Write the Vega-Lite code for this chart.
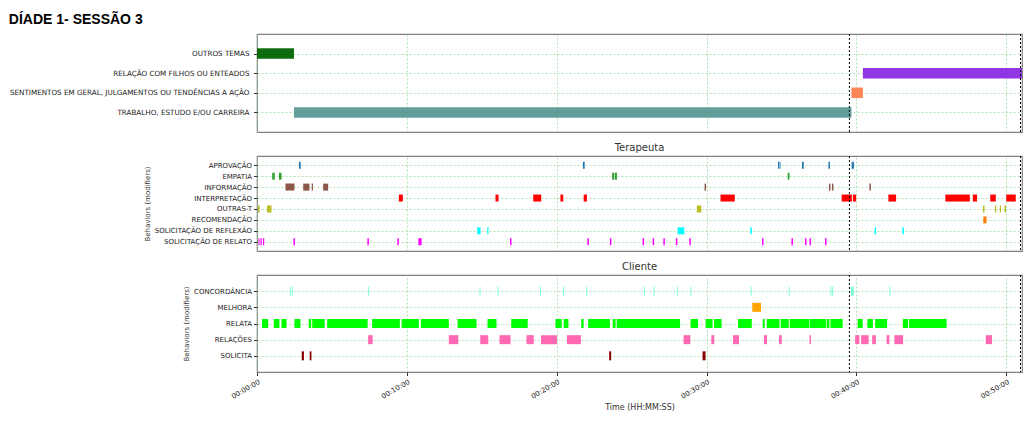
{
  "$schema": "https://vega.github.io/schema/vega-lite/v6.json",
  "padding": {"left": 8, "top": 12, "right": 3, "bottom": 5},
  "title": {"text": "DÍADE 1- SESSÃO 3", "anchor": "start", "font": "Liberation Sans", "fontSize": 14, "fontWeight": "bold", "color": "#000", "offset": 6},
  "datasets": {
    "temas": [
      {"behavior": "OUTROS TEMAS", "start": 0, "end": 148},
      {"behavior": "TRABALHO, ESTUDO E/OU CARREIRA", "start": 148, "end": 2380},
      {"behavior": "SENTIMENTOS EM GERAL, JULGAMENTOS OU TENDÊNCIAS A AÇÃO", "start": 2380, "end": 2426},
      {"behavior": "RELAÇÃO COM FILHOS OU ENTEADOS", "start": 2426, "end": 3063}
    ],
    "terapeuta": [
      {"behavior": "APROVAÇÃO", "start": 168, "end": 175},
      {"behavior": "APROVAÇÃO", "start": 1305, "end": 1312},
      {"behavior": "APROVAÇÃO", "start": 2086, "end": 2090},
      {"behavior": "APROVAÇÃO", "start": 2092, "end": 2096},
      {"behavior": "APROVAÇÃO", "start": 2182, "end": 2189},
      {"behavior": "APROVAÇÃO", "start": 2288, "end": 2294},
      {"behavior": "APROVAÇÃO", "start": 2381, "end": 2390},
      {"behavior": "EMPATIA", "start": 61, "end": 71},
      {"behavior": "EMPATIA", "start": 88, "end": 98},
      {"behavior": "EMPATIA", "start": 1422, "end": 1430},
      {"behavior": "EMPATIA", "start": 1433, "end": 1441},
      {"behavior": "EMPATIA", "start": 2125, "end": 2132},
      {"behavior": "INFORMAÇÃO", "start": 114, "end": 150},
      {"behavior": "INFORMAÇÃO", "start": 185, "end": 210},
      {"behavior": "INFORMAÇÃO", "start": 219, "end": 224},
      {"behavior": "INFORMAÇÃO", "start": 265, "end": 285},
      {"behavior": "INFORMAÇÃO", "start": 1792, "end": 1798},
      {"behavior": "INFORMAÇÃO", "start": 2290, "end": 2296},
      {"behavior": "INFORMAÇÃO", "start": 2302, "end": 2308},
      {"behavior": "INFORMAÇÃO", "start": 2452, "end": 2458},
      {"behavior": "INTERPRETAÇÃO", "start": 568, "end": 584},
      {"behavior": "INTERPRETAÇÃO", "start": 955, "end": 967},
      {"behavior": "INTERPRETAÇÃO", "start": 1106, "end": 1138},
      {"behavior": "INTERPRETAÇÃO", "start": 1215, "end": 1226},
      {"behavior": "INTERPRETAÇÃO", "start": 1308, "end": 1321},
      {"behavior": "INTERPRETAÇÃO", "start": 1856, "end": 1913},
      {"behavior": "INTERPRETAÇÃO", "start": 2341, "end": 2382},
      {"behavior": "INTERPRETAÇÃO", "start": 2386, "end": 2399},
      {"behavior": "INTERPRETAÇÃO", "start": 2528, "end": 2559},
      {"behavior": "INTERPRETAÇÃO", "start": 2756, "end": 2854},
      {"behavior": "INTERPRETAÇÃO", "start": 2866, "end": 2883},
      {"behavior": "INTERPRETAÇÃO", "start": 2936, "end": 2958},
      {"behavior": "INTERPRETAÇÃO", "start": 3000, "end": 3038},
      {"behavior": "OUTRAS-T", "start": 4, "end": 10},
      {"behavior": "OUTRAS-T", "start": 40, "end": 58},
      {"behavior": "OUTRAS-T", "start": 1761, "end": 1779},
      {"behavior": "OUTRAS-T", "start": 2907, "end": 2913},
      {"behavior": "OUTRAS-T", "start": 2955, "end": 2960},
      {"behavior": "OUTRAS-T", "start": 2974, "end": 2979},
      {"behavior": "OUTRAS-T", "start": 2993, "end": 2999},
      {"behavior": "RECOMENDAÇÃO", "start": 2908, "end": 2921},
      {"behavior": "SOLICITAÇÃO DE REFLEXÃO", "start": 882, "end": 895},
      {"behavior": "SOLICITAÇÃO DE REFLEXÃO", "start": 922, "end": 927},
      {"behavior": "SOLICITAÇÃO DE REFLEXÃO", "start": 1684, "end": 1711},
      {"behavior": "SOLICITAÇÃO DE REFLEXÃO", "start": 1975, "end": 1981},
      {"behavior": "SOLICITAÇÃO DE REFLEXÃO", "start": 2473, "end": 2479},
      {"behavior": "SOLICITAÇÃO DE REFLEXÃO", "start": 2584, "end": 2590},
      {"behavior": "SOLICITAÇÃO DE RELATO", "start": 6, "end": 10},
      {"behavior": "SOLICITAÇÃO DE RELATO", "start": 14, "end": 19},
      {"behavior": "SOLICITAÇÃO DE RELATO", "start": 24, "end": 29},
      {"behavior": "SOLICITAÇÃO DE RELATO", "start": 146, "end": 152},
      {"behavior": "SOLICITAÇÃO DE RELATO", "start": 442, "end": 448},
      {"behavior": "SOLICITAÇÃO DE RELATO", "start": 562, "end": 568},
      {"behavior": "SOLICITAÇÃO DE RELATO", "start": 646, "end": 659},
      {"behavior": "SOLICITAÇÃO DE RELATO", "start": 1013, "end": 1019},
      {"behavior": "SOLICITAÇÃO DE RELATO", "start": 1323, "end": 1329},
      {"behavior": "SOLICITAÇÃO DE RELATO", "start": 1413, "end": 1419},
      {"behavior": "SOLICITAÇÃO DE RELATO", "start": 1544, "end": 1550},
      {"behavior": "SOLICITAÇÃO DE RELATO", "start": 1584, "end": 1590},
      {"behavior": "SOLICITAÇÃO DE RELATO", "start": 1627, "end": 1633},
      {"behavior": "SOLICITAÇÃO DE RELATO", "start": 1677, "end": 1683},
      {"behavior": "SOLICITAÇÃO DE RELATO", "start": 1731, "end": 1737},
      {"behavior": "SOLICITAÇÃO DE RELATO", "start": 2022, "end": 2028},
      {"behavior": "SOLICITAÇÃO DE RELATO", "start": 2140, "end": 2146},
      {"behavior": "SOLICITAÇÃO DE RELATO", "start": 2194, "end": 2200},
      {"behavior": "SOLICITAÇÃO DE RELATO", "start": 2212, "end": 2218},
      {"behavior": "SOLICITAÇÃO DE RELATO", "start": 2274, "end": 2280}
    ],
    "cliente": [
      {"behavior": "CONCORDÂNCIA", "start": 131, "end": 135},
      {"behavior": "CONCORDÂNCIA", "start": 139, "end": 143},
      {"behavior": "CONCORDÂNCIA", "start": 445, "end": 449},
      {"behavior": "CONCORDÂNCIA", "start": 891, "end": 895},
      {"behavior": "CONCORDÂNCIA", "start": 963, "end": 967},
      {"behavior": "CONCORDÂNCIA", "start": 1133, "end": 1137},
      {"behavior": "CONCORDÂNCIA", "start": 1225, "end": 1229},
      {"behavior": "CONCORDÂNCIA", "start": 1318, "end": 1322},
      {"behavior": "CONCORDÂNCIA", "start": 1549, "end": 1553},
      {"behavior": "CONCORDÂNCIA", "start": 1588, "end": 1592},
      {"behavior": "CONCORDÂNCIA", "start": 1681, "end": 1685},
      {"behavior": "CONCORDÂNCIA", "start": 1735, "end": 1739},
      {"behavior": "CONCORDÂNCIA", "start": 1976, "end": 1980},
      {"behavior": "CONCORDÂNCIA", "start": 2129, "end": 2133},
      {"behavior": "CONCORDÂNCIA", "start": 2296, "end": 2300},
      {"behavior": "CONCORDÂNCIA", "start": 2303, "end": 2307},
      {"behavior": "CONCORDÂNCIA", "start": 2378, "end": 2390},
      {"behavior": "CONCORDÂNCIA", "start": 2532, "end": 2536},
      {"behavior": "MELHORA", "start": 1983, "end": 2018},
      {"behavior": "RELATA", "start": 20, "end": 45},
      {"behavior": "RELATA", "start": 67, "end": 90},
      {"behavior": "RELATA", "start": 98, "end": 118},
      {"behavior": "RELATA", "start": 150, "end": 174},
      {"behavior": "RELATA", "start": 207, "end": 217},
      {"behavior": "RELATA", "start": 221, "end": 271},
      {"behavior": "RELATA", "start": 281, "end": 443},
      {"behavior": "RELATA", "start": 461, "end": 572},
      {"behavior": "RELATA", "start": 579, "end": 648},
      {"behavior": "RELATA", "start": 656, "end": 768},
      {"behavior": "RELATA", "start": 803, "end": 879},
      {"behavior": "RELATA", "start": 923, "end": 959},
      {"behavior": "RELATA", "start": 1018, "end": 1084},
      {"behavior": "RELATA", "start": 1195, "end": 1220},
      {"behavior": "RELATA", "start": 1228, "end": 1247},
      {"behavior": "RELATA", "start": 1298, "end": 1308},
      {"behavior": "RELATA", "start": 1326, "end": 1413},
      {"behavior": "RELATA", "start": 1424, "end": 1436},
      {"behavior": "RELATA", "start": 1440, "end": 1694},
      {"behavior": "RELATA", "start": 1736, "end": 1766},
      {"behavior": "RELATA", "start": 1796, "end": 1824},
      {"behavior": "RELATA", "start": 1830, "end": 1860},
      {"behavior": "RELATA", "start": 1926, "end": 1981},
      {"behavior": "RELATA", "start": 2025, "end": 2033},
      {"behavior": "RELATA", "start": 2041, "end": 2092},
      {"behavior": "RELATA", "start": 2097, "end": 2129},
      {"behavior": "RELATA", "start": 2133, "end": 2212},
      {"behavior": "RELATA", "start": 2214, "end": 2278},
      {"behavior": "RELATA", "start": 2281, "end": 2292},
      {"behavior": "RELATA", "start": 2296, "end": 2345},
      {"behavior": "RELATA", "start": 2405, "end": 2425},
      {"behavior": "RELATA", "start": 2444, "end": 2466},
      {"behavior": "RELATA", "start": 2475, "end": 2523},
      {"behavior": "RELATA", "start": 2586, "end": 2607},
      {"behavior": "RELATA", "start": 2611, "end": 2761},
      {"behavior": "RELAÇÕES", "start": 445, "end": 463},
      {"behavior": "RELAÇÕES", "start": 768, "end": 806},
      {"behavior": "RELAÇÕES", "start": 894, "end": 926},
      {"behavior": "RELAÇÕES", "start": 971, "end": 1015},
      {"behavior": "RELAÇÕES", "start": 1079, "end": 1108},
      {"behavior": "RELAÇÕES", "start": 1137, "end": 1201},
      {"behavior": "RELAÇÕES", "start": 1241, "end": 1297},
      {"behavior": "RELAÇÕES", "start": 1708, "end": 1735},
      {"behavior": "RELAÇÕES", "start": 1819, "end": 1831},
      {"behavior": "RELAÇÕES", "start": 1906, "end": 1930},
      {"behavior": "RELAÇÕES", "start": 2030, "end": 2042},
      {"behavior": "RELAÇÕES", "start": 2090, "end": 2101},
      {"behavior": "RELAÇÕES", "start": 2212, "end": 2218},
      {"behavior": "RELAÇÕES", "start": 2395, "end": 2412},
      {"behavior": "RELAÇÕES", "start": 2419, "end": 2449},
      {"behavior": "RELAÇÕES", "start": 2463, "end": 2478},
      {"behavior": "RELAÇÕES", "start": 2521, "end": 2532},
      {"behavior": "RELAÇÕES", "start": 2552, "end": 2587},
      {"behavior": "RELAÇÕES", "start": 2918, "end": 2943},
      {"behavior": "SOLICITA", "start": 179, "end": 188},
      {"behavior": "SOLICITA", "start": 211, "end": 218},
      {"behavior": "SOLICITA", "start": 1410, "end": 1418},
      {"behavior": "SOLICITA", "start": 1784, "end": 1796}
    ],
    "marcas": [{"t": 2372}, {"t": 3057}]
  },
  "spacing": 7,
  "vconcat": [
    {
      "width": 765,
      "height": 98,
      "layer": [
        {
          "data": {"name": "temas"},
          "mark": {"type": "bar", "height": 10.5, "opacity": 0.95},
          "encoding": {
            "x": {"field": "start", "type": "quantitative", "scale": {"domain": [0, 3063], "nice": false}, "axis": {"values": [0, 600, 1200, 1800, 2400, 3000], "labels": false, "ticks": false, "title": null}},
            "x2": {"field": "end"},
            "y": {"field": "behavior", "type": "nominal", "sort": ["OUTROS TEMAS", "RELAÇÃO COM FILHOS OU ENTEADOS", "SENTIMENTOS EM GERAL, JULGAMENTOS OU TENDÊNCIAS A AÇÃO", "TRABALHO, ESTUDO E/OU CARREIRA"], "scale": {"type": "point", "padding": 1}, "axis": {"title": null, "grid": true, "labelFontSize": 7.2, "labelPadding": 4.5}},
            "color": {"field": "behavior", "type": "nominal", "legend": null, "scale": {"domain": ["OUTROS TEMAS", "RELAÇÃO COM FILHOS OU ENTEADOS", "SENTIMENTOS EM GERAL, JULGAMENTOS OU TENDÊNCIAS A AÇÃO", "TRABALHO, ESTUDO E/OU CARREIRA"], "range": ["#006400", "#8a2be2", "#ff7f50", "#5a9a96"]}}
          }
        },
        {
          "data": {"name": "marcas"},
          "mark": {"type": "rule", "color": "#000", "strokeDash": [2, 2], "strokeWidth": 1},
          "encoding": {"x": {"field": "t", "type": "quantitative"}}
        }
      ]
    },
    {
      "width": 765,
      "height": 95,
      "title": {"text": "Terapeuta", "frame": "group", "anchor": "middle", "fontSize": 10, "fontWeight": "normal", "color": "#333", "offset": 3},
      "layer": [
        {
          "data": {"name": "terapeuta"},
          "mark": {"type": "bar", "height": 7},
          "encoding": {
            "x": {"field": "start", "type": "quantitative", "scale": {"domain": [0, 3063], "nice": false}, "axis": {"values": [0, 600, 1200, 1800, 2400, 3000], "labels": false, "ticks": false, "title": null}},
            "x2": {"field": "end"},
            "y": {"field": "behavior", "type": "nominal", "sort": ["APROVAÇÃO", "EMPATIA", "INFORMAÇÃO", "INTERPRETAÇÃO", "OUTRAS-T", "RECOMENDAÇÃO", "SOLICITAÇÃO DE REFLEXÃO", "SOLICITAÇÃO DE RELATO"], "scale": {"type": "point", "padding": 0.85}, "axis": {"title": "Behaviors (modifiers)", "grid": true}},
            "color": {"field": "behavior", "type": "nominal", "legend": null, "scale": {"domain": ["APROVAÇÃO", "EMPATIA", "INFORMAÇÃO", "INTERPRETAÇÃO", "OUTRAS-T", "RECOMENDAÇÃO", "SOLICITAÇÃO DE REFLEXÃO", "SOLICITAÇÃO DE RELATO"], "range": ["#1f77b4", "#2ca02c", "#8c564b", "#ff0000", "#bcbd22", "#ff7f0e", "#00ffff", "#ff00ff"]}}
          }
        },
        {
          "data": {"name": "marcas"},
          "mark": {"type": "rule", "color": "#000", "strokeDash": [2, 2], "strokeWidth": 1},
          "encoding": {"x": {"field": "t", "type": "quantitative"}}
        }
      ]
    },
    {
      "width": 765,
      "height": 97,
      "title": {"text": "Cliente", "frame": "group", "anchor": "middle", "fontSize": 10, "fontWeight": "normal", "color": "#333", "offset": 3},
      "layer": [
        {
          "data": {"name": "cliente"},
          "mark": {"type": "bar", "height": 9},
          "encoding": {
            "x": {"field": "start", "type": "quantitative", "scale": {"domain": [0, 3063], "nice": false}, "axis": {"values": [0, 600, 1200, 1800, 2400, 3000], "labelExpr": "utcFormat(datum.value * 1000, '%H:%M:%S')", "labelAngle": -30, "labelFontSize": 7, "title": "Time (HH:MM:SS)", "titleFontSize": 8, "tickSize": 3.5}},
            "x2": {"field": "end"},
            "y": {"field": "behavior", "type": "nominal", "sort": ["CONCORDÂNCIA", "MELHORA", "RELATA", "RELAÇÕES", "SOLICITA"], "scale": {"type": "point", "padding": 1}, "axis": {"title": "Behaviors (modifiers)", "grid": true}},
            "color": {"field": "behavior", "type": "nominal", "legend": null, "scale": {"domain": ["CONCORDÂNCIA", "MELHORA", "RELATA", "RELAÇÕES", "SOLICITA"], "range": ["#7fffd4", "#ffa500", "#00ff00", "#ff69b4", "#8b0000"]}}
          }
        },
        {
          "data": {"name": "marcas"},
          "mark": {"type": "rule", "color": "#000", "strokeDash": [2, 2], "strokeWidth": 1},
          "encoding": {"x": {"field": "t", "type": "quantitative"}}
        }
      ]
    }
  ],
  "resolve": {"scale": {"color": "independent"}},
  "config": {
    "font": "DejaVu Sans",
    "view": {"stroke": "#808080", "strokeWidth": 1.2},
    "axis": {"gridColor": "#86cf86", "gridDash": [2, 2], "gridWidth": 0.7, "gridOpacity": 0.9, "labelFont": "DejaVu Sans", "labelFontSize": 7, "labelLimit": 400, "labelColor": "#222", "tickColor": "#333", "tickSize": 3.5, "labelPadding": 2, "domain": false, "titleFont": "DejaVu Sans", "titleFontWeight": "normal", "titleFontSize": 7, "titleColor": "#333"}
  }
}
